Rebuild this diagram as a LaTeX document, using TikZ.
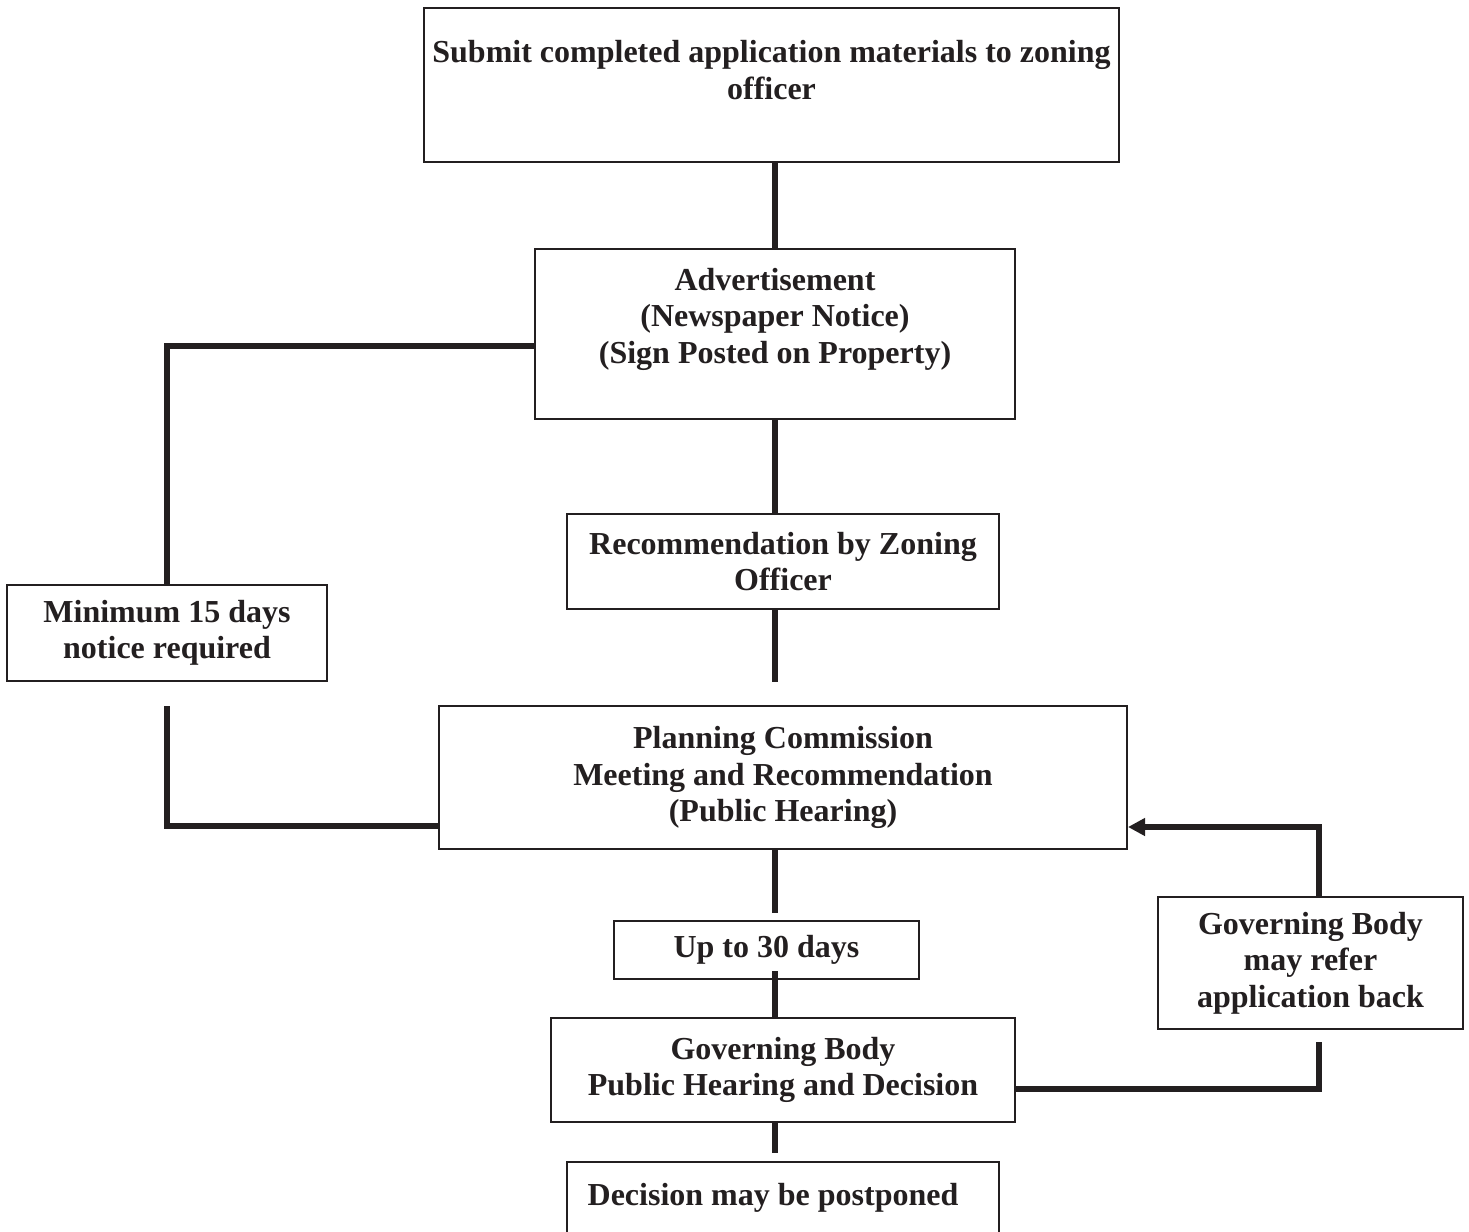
\documentclass[tikz,border=0pt]{standalone}
\usepackage{fontspec}
\setmainfont{Liberation Serif}
\usetikzlibrary{arrows.meta}
\definecolor{ink}{HTML}{231F20}
\begin{document}
\begin{tikzpicture}[x=1pt,y=-1pt,
  box/.style={draw=ink, line width=2pt, fill=white, inner sep=0pt, align=center,
    text=ink, font=\fontsize{32}{36.5}\selectfont\bfseries},
  txt/.style={inner sep=0pt, align=center, text=ink, font=\fontsize{32}{36.5}\selectfont\bfseries},
  conn/.style={draw=ink, line width=5.5pt, line join=miter},
  tipconn/.style={conn, -{Triangle[length=17pt,width=17pt]}}]
\useasboundingbox (0,0) rectangle (1469,1231);
\fill[white] (0,0) rectangle (1469,1231);

% boxes
\node[box, minimum width=695pt, minimum height=154pt,
  label={[txt,yshift=15pt]center:Submit completed application materials to zoning\\officer}]
  (top) at (771.5,85) {};
\node[box, minimum width=480pt, minimum height=170pt,
  label={[txt,yshift=15pt]center:Advertisement\\(Newspaper Notice)\\(Sign Posted on Property)}]
  (adv) at (775,334) {};
\node[box, minimum width=432pt, minimum height=95pt] (rec) at (783,561.5)
  {Recommendation by Zoning\\Officer};
\node[box, minimum width=320pt, minimum height=96pt] (min) at (167,633)
  {Minimum 15 days\\notice required};
\node[box, minimum width=688pt, minimum height=143pt] (plan) at (783,777.5)
  {Planning Commission\\Meeting and Recommendation\\(Public Hearing)};
\node[box, minimum width=305pt, minimum height=58pt] (up) at (766.5,950)
  {Up to 30 days};
\node[box, minimum width=305pt, minimum height=132pt] (refer) at (1310.5,963)
  {Governing Body\\may refer\\application back};
\node[box, minimum width=464pt, minimum height=104pt] (gov) at (783,1070)
  {Governing Body\\Public Hearing and Decision};
\node[box, minimum width=432pt, minimum height=118pt,
  label={[txt,yshift=23pt,xshift=-10pt]center:Decision may be postponed}]
  (dec) at (783,1221) {};

% helper coordinates (free ends and elbow heights)
\coordinate (advrow) at (0,346);
\coordinate (lowstart) at (167,706);
\coordinate (planrow) at (0,826);
\coordinate (recend) at (775,682);
\coordinate (upgap) at (775,913);
\coordinate (upin) at (775,971);
\coordinate (decgap) at (775,1153);
\coordinate (govrow) at (0,1089);
\coordinate (refgap) at (1319,1042);
\coordinate (arrrow) at (0,827);

% connectors
\draw[conn] (adv.north) -- (adv.north |- top.south);
\draw[conn] (adv.south) -- (adv.south |- rec.north);
\draw[conn] (recend |- rec.south) -- (recend);
\draw[conn] (min.north) |- (adv.west |- advrow);
\draw[conn] (lowstart) |- (plan.west |- planrow);
\draw[conn] (upgap |- plan.south) -- (upgap);
\draw[conn] (upin) -- (upin |- gov.north);
\draw[conn] (decgap |- gov.south) -- (decgap);
\draw[conn] (gov.east |- govrow) -| (refgap);
\draw[tipconn] (refgap |- refer.north) |- (plan.east |- arrrow);
\end{tikzpicture}
\end{document}
